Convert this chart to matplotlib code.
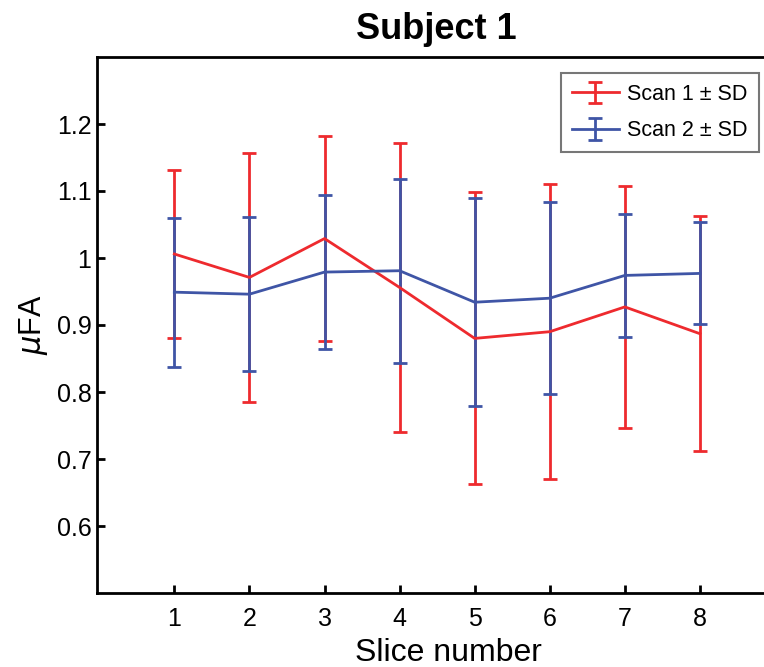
import numpy as np
import matplotlib
matplotlib.use('Agg')
import matplotlib.pyplot as plt
from matplotlib.ticker import FormatStrFormatter

plt.rcParams['font.family'] = ['Liberation Sans', 'DejaVu Sans']

slices = [1, 2, 3, 4, 5, 6, 7, 8]
scan1_mean = [1.006, 0.971, 1.029, 0.956, 0.880, 0.890, 0.927, 0.887]
scan1_sd = [0.125, 0.186, 0.153, 0.216, 0.218, 0.220, 0.180, 0.175]
scan2_mean = [0.949, 0.946, 0.979, 0.981, 0.934, 0.940, 0.974, 0.977]
scan2_sd = [0.111, 0.115, 0.115, 0.137, 0.155, 0.143, 0.092, 0.076]

red = '#ee2a2e'
blue = '#3f55a6'

fig = plt.figure(figsize=(7.64, 6.67), dpi=100)
# axes runs off the right edge of the picture
ax = fig.add_axes([97 / 764, (667 - 593) / 667, 678 / 764, (593 - 57) / 667])

ax.errorbar(slices, scan1_mean, yerr=scan1_sd, color=red, lw=2, elinewidth=2,
            capsize=5, capthick=2, label='Scan 1 ± SD')
ax.errorbar(slices, scan2_mean, yerr=scan2_sd, color=blue, lw=2, elinewidth=2,
            capsize=5, capthick=2, label='Scan 2 ± SD')

ax.set_xlim(-0.03, 9)
ax.set_ylim(0.5, 1.3)
ax.set_xticks(slices)
ax.set_yticks([0.6, 0.7, 0.8, 0.9, 1.0, 1.1, 1.2])
ax.yaxis.set_major_formatter(FormatStrFormatter('%g'))
ax.tick_params(direction='in', length=6, width=2, labelsize=18)
ax.tick_params(axis='x', pad=10)
ax.tick_params(axis='y', pad=4)
for s in ax.spines.values():
    s.set_linewidth(2)
ax.spines['right'].set_visible(False)

ax.set_xlabel('Slice number', fontsize=23)
ax.xaxis.set_label_coords(0.519, -0.084)
ax.set_ylabel(r'$\mathit{\mu}$FA', fontsize=22, labelpad=5)
ax.set_title('Subject 1', fontsize=26, fontweight='bold', pad=13)

leg = ax.legend(loc='upper left', bbox_to_anchor=(0.684, 0.97), fontsize=15.5,
                frameon=True, fancybox=False, edgecolor='#555555',
                handlelength=2.2, borderpad=0.5, labelspacing=0.72,
                handletextpad=0.4, borderaxespad=0)
leg.get_frame().set_linewidth(1.5)

fig.savefig('out.png', dpi=100)
